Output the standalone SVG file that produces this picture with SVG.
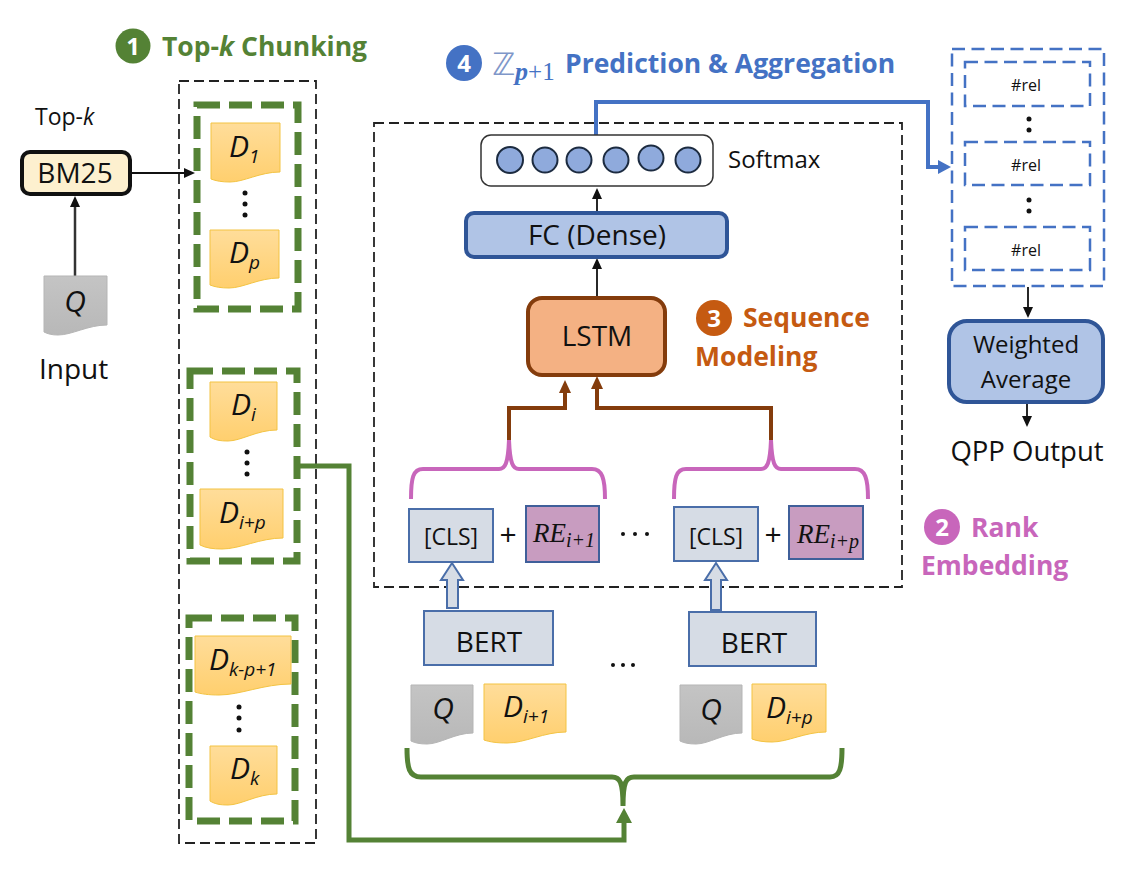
<svg xmlns="http://www.w3.org/2000/svg" width="1143" height="874" viewBox="0 0 1143 874">
<style>
text{font-family:"Open Sans","Noto Sans","Liberation Sans",sans-serif;fill:#111}
.c{text-anchor:middle}
.i{font-style:italic}
.d{font-size:30px;font-style:italic}
.s{font-size:19px;font-style:italic}
.h{font-size:26.500px;font-weight:700}
.n{font-size:24px;font-weight:700;fill:#fff;text-anchor:middle}
.re{font-family:"Liberation Serif",serif;font-style:italic;font-size:27px}
.res{font-family:"Liberation Serif",serif;font-style:italic;font-size:20px}
.docy{fill:url(#gy);stroke:#f3c342;stroke-width:1}
.docg{fill:url(#gg);stroke:#b5b5b5;stroke-width:1}
.gd{fill:none;stroke:#548235;stroke-width:7;stroke-dasharray:23 9}
.bd{fill:none;stroke:#222;stroke-width:1.800;stroke-dasharray:10 5}
.ud{fill:none;stroke:#4472c4;stroke-width:2.500;stroke-dasharray:13 6.500}
.grey{fill:#d6dce5;stroke:#4a6ea9;stroke-width:2}
.re-box{fill:#c89cc0;stroke:#3f5f9a;stroke-width:2}
.hollow{fill:#d6dce5;stroke:#4a6ea9;stroke-width:2}
.cir{fill:#8faadc;stroke:#1c2b40;stroke-width:2}
.dot{fill:#111}
.blk{fill:none;stroke:#111;stroke-width:1.800}
.blk2{fill:none;stroke:#333;stroke-width:2.500}
.grn{fill:none;stroke:#548235;stroke-width:5}
.brn{fill:none;stroke:#843c0c;stroke-width:4}
.pnk{fill:none;stroke:#c866bb;stroke-width:4}
.blu{fill:none;stroke:#4472c4;stroke-width:4}
</style>
<defs>
<linearGradient id="gy" x1="0" y1="0" x2="0" y2="1"><stop offset="0" stop-color="#ffdd9a"/><stop offset="1" stop-color="#ffcf6e"/></linearGradient>
<linearGradient id="gg" x1="0" y1="0" x2="0" y2="1"><stop offset="0" stop-color="#c4c4c4"/><stop offset="1" stop-color="#b8b8b8"/></linearGradient>
<marker id="mk" markerUnits="userSpaceOnUse" markerWidth="12" markerHeight="12" refX="0" refY="6" orient="auto"><path d="M0 1L11 6L0 11Z" fill="#111"/></marker>
<marker id="mg" markerUnits="userSpaceOnUse" markerWidth="16" markerHeight="18" refX="0" refY="9" orient="auto"><path d="M0 1L15 9L0 17Z" fill="#548235"/></marker>
<marker id="mb" markerUnits="userSpaceOnUse" markerWidth="14" markerHeight="16" refX="0" refY="8" orient="auto"><path d="M0 2L13 8L0 14Z" fill="#843c0c"/></marker>
<marker id="mu" markerUnits="userSpaceOnUse" markerWidth="14" markerHeight="18" refX="0" refY="9" orient="auto"><path d="M0 2L13 9L0 16Z" fill="#4472c4"/></marker>
</defs>
<rect width="1143" height="874" fill="#fff"/>

<g id="chunk-frame"><rect class="bd" x="179" y="81" width="137" height="762"/></g>
<g id="model-frame"><rect class="bd" x="374" y="123" width="528" height="464"/></g>

<g id="connectors">
<path class="blk" d="M131 173H184" marker-end="url(#mk)"/>
<path class="blk2" d="M75 276V207" marker-end="url(#mk)"/>
<path class="grn" d="M297 466H349V840H624V823" marker-end="url(#mg)"/>
<path class="grn" d="M407 748C407 768 409 777 421 777H612C620 777 623 782 623 806M842 748C842 768 840 777 830 777H634C626 777 623 782 623 806"/>
<path class="brn" d="M509 440V408H565V393" marker-end="url(#mb)"/>
<path class="brn" d="M771 440V408H597V389" marker-end="url(#mb)"/>
<path class="pnk" d="M411 499C411 478 413 469 423 469H499C505 469 508 464 509 440C510 464 513 469 519 469H592C602 469 605 478 605 499"/>
<path class="pnk" d="M674 499C674 478 676 469 686 469H761C767 469 770 464 771 440C772 464 775 469 781 469H855C865 469 868 478 868 499"/>
<path class="blk" d="M597 213V199" marker-end="url(#mk)"/>
<path class="blk" d="M597 298V269" marker-end="url(#mk)"/>
<path class="blu" d="M596 135V102H928V167H938" marker-end="url(#mu)"/>
<path class="blk" d="M1028 287V307" marker-end="url(#mk)"/>
<path class="blk" d="M1027 402V416" marker-end="url(#mk)"/>
<path class="hollow" d="M447 608V580H441L452 563L463 580H458V608Z"/>
<path class="hollow" d="M711 610V580H705L716 563L727 580H721V610Z"/>
</g>

<g id="title-1">
<circle cx="133" cy="46" r="17.500" fill="#548235"/><text class="n" x="133" y="55">1</text>
<text class="h" x="162" y="56" style="fill:#548235">Top-<tspan class="i">k</tspan> Chunking</text>
</g>
<g id="input-q">
<path class="docg" d="M44 276H107V325C88 325 72 335 58 335C52 335 48 334 44 332Z"/>
<text class="d c" x="75" y="312">Q</text>
<text x="39" y="379" font-size="28">Input</text>
</g>
<g id="bm25">
<text x="35" y="125" font-size="23">Top-<tspan class="i">k</tspan></text>
<rect x="22" y="152" width="108" height="42" rx="8" fill="#fdf0cf" stroke="#111" stroke-width="4"/>
<text class="c" x="75" y="183" font-size="28">BM25</text>
</g>

<g id="chunk-1">
<rect class="gd" x="197" y="105" width="101" height="204"/>
<path class="docy" d="M211 123H280V172C260 172 244 182 230 182C222 182 216 181 211 179Z"/>
<text class="d" x="229" y="157">D<tspan class="s" dy="6">1</tspan></text>
<path class="docy" d="M210 230H279V278C259 278 243 288 229 288C221 288 215 287 210 285Z"/>
<text class="d" x="229" y="263">D<tspan class="s" dy="6">p</tspan></text>
<circle class="dot" cx="245" cy="193" r="2.500"/><circle class="dot" cx="245" cy="204" r="2.500"/><circle class="dot" cx="245" cy="215" r="2.500"/>
</g>
<g id="chunk-2">
<rect class="gd" x="190" y="371" width="107" height="190"/>
<path class="docy" d="M210 382H277V430C257 430 241 441 228 441C220 441 215 440 210 437Z"/>
<text class="d" x="231" y="415">D<tspan class="s" dy="6">i</tspan></text>
<path class="docy" d="M200 489H283V538C260 538 240 549 222 549C213 549 206 548 200 545Z"/>
<text class="d" x="219" y="523">D<tspan class="s" dy="6">i+p</tspan></text>
<circle class="dot" cx="247" cy="452" r="2.500"/><circle class="dot" cx="247" cy="463" r="2.500"/><circle class="dot" cx="247" cy="474" r="2.500"/>
</g>
<g id="chunk-3">
<rect class="gd" x="189" y="618" width="106" height="203"/>
<path class="docy" d="M195 636H291V684C264 684 240 695 219 695C209 695 201 694 195 692Z"/>
<text class="d" x="209" y="670">D<tspan class="s" dy="6">k-p+1</tspan></text>
<path class="docy" d="M210 746H277V794C257 794 241 805 228 805C220 805 215 804 210 801Z"/>
<text class="d" x="230" y="779">D<tspan class="s" dy="6">k</tspan></text>
<circle class="dot" cx="239" cy="707" r="2.500"/><circle class="dot" cx="239" cy="718" r="2.500"/><circle class="dot" cx="239" cy="730" r="2.500"/>
</g>

<g id="title-4">
<circle cx="464" cy="63" r="18" fill="#4472c4"/><text class="n" x="464" y="72">4</text>
<text x="492" y="75" font-size="31" style="font-family:'DejaVu Sans',sans-serif;fill:#7f97c9">ℤ<tspan dy="5" font-size="26" style="font-family:'Liberation Serif',serif;font-style:italic;font-weight:700;fill:#4472c4">p</tspan><tspan font-size="25" style="font-family:'Liberation Serif',serif;fill:#4472c4">+1</tspan></text>
<text class="h" x="565" y="73" style="fill:#4472c4">Prediction &amp; Aggregation</text>
</g>
<g id="softmax">
<rect x="481" y="135" width="232" height="51" rx="10" fill="#fff" stroke="#333" stroke-width="1.500"/>
<circle class="cir" cx="510" cy="160" r="13"/><circle class="cir" cx="545" cy="160" r="12.500"/><circle class="cir" cx="579" cy="160" r="12.500"/><circle class="cir" cx="616" cy="160" r="12.500"/><circle class="cir" cx="651" cy="158" r="12.500"/><circle class="cir" cx="688" cy="160" r="12.500"/>
<text x="728" y="168" font-size="24">Softmax</text>
</g>
<g id="fc">
<rect x="466" y="213" width="261" height="44" rx="8" fill="#b0c4e6" stroke="#2f5597" stroke-width="4"/>
<text class="c" x="597" y="245" font-size="28">FC (Dense)</text>
</g>
<g id="lstm">
<rect x="528" y="298" width="137" height="77" rx="14" fill="#f4b183" stroke="#843c0c" stroke-width="4"/>
<text class="c" x="597" y="346" font-size="28">LSTM</text>
</g>
<g id="title-3">
<circle cx="714" cy="318" r="18" fill="#c55a11"/><text class="n" x="714" y="327">3</text>
<text class="h" x="743" y="327" style="fill:#c55a11">Sequence</text>
<text class="h" x="695" y="366" style="fill:#c55a11">Modeling</text>
</g>
<g id="title-2">
<circle cx="942" cy="527" r="18" fill="#c866bb"/><text class="n" x="942" y="536">2</text>
<text class="h" x="971" y="537" style="fill:#c866bb">Rank</text>
<text class="h" x="921" y="575" style="fill:#c866bb">Embedding</text>
</g>

<g id="cls-left">
<rect class="grey" x="409" y="509" width="84" height="53"/>
<text class="c" x="451" y="545" font-size="23">[CLS]</text>
<text class="c" x="508" y="545" font-size="30">+</text>
</g>
<g id="re-left">
<rect class="re-box" x="526" y="506" width="73" height="56"/>
<text class="re" x="533" y="542">RE<tspan class="res" dy="5">i+1</tspan></text>
</g>
<g id="cls-right">
<rect class="grey" x="674" y="507" width="84" height="54"/>
<text class="c" x="716" y="545" font-size="23">[CLS]</text>
<text class="c" x="773" y="545" font-size="30">+</text>
</g>
<g id="re-right">
<rect class="re-box" x="789" y="506" width="74" height="53"/>
<text class="re" x="797" y="543">RE<tspan class="res" dy="5">i+p</tspan></text>
</g>
<g id="ellipsis-cls"><circle class="dot" cx="623" cy="534" r="2"/><circle class="dot" cx="635" cy="534" r="2"/><circle class="dot" cx="647" cy="534" r="2"/></g>
<g id="bert-left">
<rect class="grey" x="424" y="611" width="129" height="54"/>
<text class="c" x="489" y="652" font-size="28">BERT</text>
</g>
<g id="bert-right">
<rect class="grey" x="689" y="612" width="127" height="54"/>
<text class="c" x="754" y="653" font-size="28">BERT</text>
</g>
<g id="ellipsis-bert"><circle class="dot" cx="613" cy="665" r="2"/><circle class="dot" cx="623" cy="665" r="2"/><circle class="dot" cx="633" cy="665" r="2"/></g>
<g id="pair-left">
<path class="docg" d="M411 685H473V733C455 733 440 744 427 744C420 744 415 743 411 741Z"/>
<text class="d c" x="443" y="719">Q</text>
<path class="docy" d="M484 684H566V732C544 732 525 743 507 743C497 743 490 742 484 740Z"/>
<text class="d" x="503" y="717">D<tspan class="s" dy="6">i+1</tspan></text>
</g>
<g id="pair-right">
<path class="docg" d="M680 685H742V733C724 733 709 744 696 744C689 744 684 743 680 741Z"/>
<text class="d c" x="711" y="720">Q</text>
<path class="docy" d="M752 684H826V732C805 732 788 742 772 742C764 742 757 741 752 739Z"/>
<text class="d" x="766" y="718">D<tspan class="s" dy="6">i+p</tspan></text>
</g>

<g id="rel-group">
<rect class="ud" x="952" y="49" width="152" height="237"/>
<rect class="ud" x="965" y="62" width="125" height="44"/>
<text class="c" x="1026" y="91" font-size="16">#rel</text>
<circle class="dot" cx="1029" cy="119" r="2.500"/><circle class="dot" cx="1029" cy="130" r="2.500"/>
<rect class="ud" x="965" y="142" width="125" height="43"/>
<text class="c" x="1026" y="171" font-size="16">#rel</text>
<circle class="dot" cx="1029" cy="200" r="2.500"/><circle class="dot" cx="1029" cy="211" r="2.500"/>
<rect class="ud" x="965" y="227" width="125" height="43"/>
<text class="c" x="1026" y="256" font-size="16">#rel</text>
</g>
<g id="weighted-average">
<rect x="949" y="321" width="154" height="81" rx="18" fill="#b0c4e6" stroke="#2f5597" stroke-width="4"/>
<text class="c" x="1026" y="353" font-size="24">Weighted</text>
<text class="c" x="1026" y="388" font-size="24">Average</text>
</g>
<g id="qpp-output"><text class="c" x="1027" y="461" font-size="27.500">QPP Output</text></g>
</svg>
